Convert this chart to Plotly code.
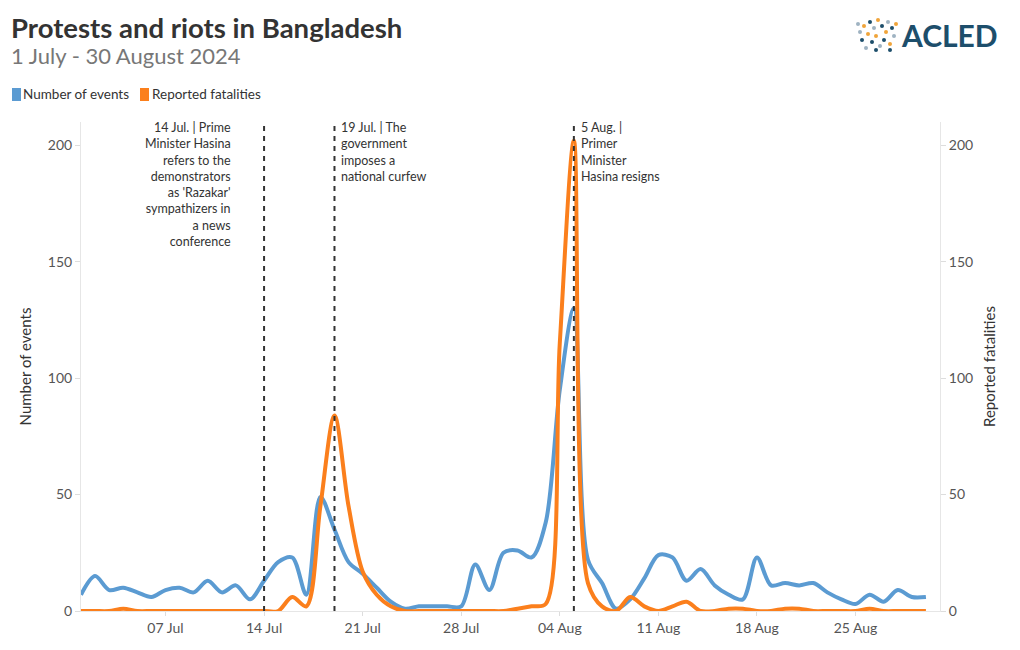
import pandas as pd
import plotly.graph_objects as go

# ---- data ----
dates = pd.date_range("2024-07-01", "2024-08-30", freq="D")
events = [7, 15, 9, 10, 8, 6, 9, 10, 8, 13, 8, 11, 5, 13, 21, 23, 7, 49, 35, 21,
          16, 10, 4, 1, 2, 2, 2, 2, 20, 9, 25,
          26, 23, 38, 95, 130, 22, 12, 1, 5, 14, 24, 23, 13, 18, 11, 7, 5, 23, 11,
          12, 11, 12, 8, 5, 3, 7, 4, 9, 6, 6]
fatalities = [0, 0, 0, 1, 0, 0, 0, 0, 0, 0, 0, 0, 0, 0, 0, 6, 2, 45, 84, 45,
              17, 7, 2, 0, 0, 0, 0, 0, 0, 0, 0,
              1, 2, 3, 115, 202, 12, 2, 0, 6, 2, 0, 2, 4, 0, 0, 1, 1, 0, 0,
              1, 1, 0, 0, 0, 0, 1, 0, 0, 0, 0]
tick_dates = ["2024-07-07", "2024-07-14", "2024-07-21", "2024-07-28",
              "2024-08-04", "2024-08-11", "2024-08-18", "2024-08-25"]
tick_labels = ["07 Jul", "14 Jul", "21 Jul", "28 Jul", "04 Aug", "11 Aug", "18 Aug", "25 Aug"]
event_dates = ["2024-07-14", "2024-07-19", "2024-08-05"]
event_texts = [
    "14 Jul. | Prime<br>Minister Hasina<br>refers to the<br>demonstrators<br>as 'Razakar'<br>sympathizers in<br>a news<br>conference",
    "19 Jul. | The<br>government<br>imposes a<br>national curfew",
    "5 Aug. |<br>Primer<br>Minister<br>Hasina resigns",
]
event_sides = ["left", "right", "right"]
series_names = ["Number of events", "Reported fatalities"]

BLUE = "#5b9bd2"
ORANGE = "#fb7f1c"
FONT = "Lato"

# plot area in pixels (for placing decorations outside the axes)
L, R, T, B = 81, 940, 122, 611
def px(x):
    return (x - L) / (R - L)
def py(y):
    return (B - y) / (B - T)

fig = go.Figure()
fig.add_trace(go.Scatter(x=dates, y=events, mode="lines", name=series_names[0],
                         line=dict(color=BLUE, width=4, shape="spline", smoothing=0.9),
                         showlegend=False, yaxis="y"))
fig.add_trace(go.Scatter(x=dates, y=fatalities, mode="lines", name=series_names[1],
                         line=dict(color=ORANGE, width=4, shape="spline", smoothing=0.9),
                         showlegend=False, yaxis="y2"))

for d in event_dates:
    fig.add_shape(type="line", xref="x", yref="paper", x0=d, x1=d, y0=0, y1=1,
                  line=dict(color="#333333", width=2, dash="5px,5px"))

for d, t, side in zip(event_dates, event_texts, event_sides):
    left = side == "left"
    fig.add_annotation(x=d, y=1.0, xref="x", yref="paper", text=t, showarrow=False,
                       xanchor="right" if left else "left", yanchor="top",
                       align="right" if left else "left",
                       xshift=-31 if left else 5, yshift=4,
                       font=dict(family=FONT, size=12.5, color="#333333"))

# title & subtitle
fig.add_annotation(x=px(9), y=py(27), xref="paper", yref="paper", showarrow=False,
                   xanchor="left", yanchor="middle",
                   text="<b>Protests and riots in Bangladesh</b>",
                   font=dict(family=FONT, size=27.5, color="#333333"))
fig.add_annotation(x=px(9), y=py(56), xref="paper", yref="paper", showarrow=False,
                   xanchor="left", yanchor="middle",
                   text="1 July - 30 August 2024",
                   font=dict(family=FONT, size=22, color="#777777"))

# legend (swatches + labels)
for (sx, tx), name, col in zip([(12, 21), (140, 150)], series_names, [BLUE, ORANGE]):
    fig.add_shape(type="rect", xref="paper", yref="paper",
                  x0=px(sx), x1=px(sx + 9), y0=py(101), y1=py(88),
                  fillcolor=col, line=dict(width=0))
    fig.add_annotation(x=px(tx), y=py(94.5), xref="paper", yref="paper", showarrow=False,
                       xanchor="left", yanchor="middle", text=name,
                       font=dict(family=FONT, size=13.5, color="#333333"))

# logo
fig.add_annotation(x=px(1000), y=py(35), xref="paper", yref="paper", showarrow=False,
                   xanchor="right", yanchor="middle", text="<b>ACLED</b>",
                   font=dict(family=FONT, size=30, color="#1d4e6b"))
logo_dots = [(860, 32, "#9fb3c2"), (864, 26, "#f0a43a"), (862, 40, "#1d4e6b"), (868, 34, "#f0a43a"),
             (870, 22, "#1d4e6b"), (874, 28, "#9fb3c2"), (872, 42, "#1d4e6b"), (876, 36, "#f0a43a"),
             (878, 20, "#f0a43a"), (882, 26, "#1d4e6b"), (880, 46, "#9fb3c2"), (884, 40, "#1d4e6b"),
             (886, 32, "#f0a43a"), (888, 22, "#9fb3c2"), (890, 44, "#f0a43a"), (892, 28, "#1d4e6b"),
             (894, 36, "#9fb3c2"), (896, 24, "#f0a43a"), (866, 48, "#9fb3c2"), (876, 50, "#1d4e6b"),
             (858, 24, "#9fb3c2"), (890, 50, "#1d4e6b")]
for dx, dy, c in logo_dots:
    fig.add_shape(type="circle", xref="paper", yref="paper",
                  x0=px(dx - 2), x1=px(dx + 2), y0=py(dy + 2), y1=py(dy - 2),
                  fillcolor=c, line=dict(width=0))

axis_common = dict(showgrid=False, zeroline=False, showline=True, linecolor="#e6e6e6",
                   ticks="outside", ticklen=5, tickcolor="#dddddd",
                   tickfont=dict(family=FONT, size=14, color="#555555"))

fig.update_layout(
    width=1020, height=650,
    margin=dict(l=L, r=1020 - R, t=T, b=650 - B, autoexpand=False),
    paper_bgcolor="white", plot_bgcolor="white",
    font=dict(family=FONT, color="#333333"),
    showlegend=False,
    xaxis=dict(range=["2024-07-01", "2024-08-31"], tickvals=tick_dates, ticktext=tick_labels,
               showgrid=False, zeroline=False, showline=True, linecolor="#e6e6e6",
               ticks="outside", ticklen=4, tickcolor="#dddddd",
               tickfont=dict(family=FONT, size=14, color="#555555")),
    yaxis=dict(range=[0, 210], tickvals=[0, 50, 100, 150, 200],
               title=dict(text="Number of events", font=dict(family=FONT, size=15, color="#333333"), standoff=12),
               **axis_common),
    yaxis2=dict(range=[0, 210], tickvals=[0, 50, 100, 150, 200], overlaying="y", side="right",
                title=dict(text="Reported fatalities", font=dict(family=FONT, size=15, color="#333333"), standoff=12),
                **axis_common),
)

fig.write_html("out.html")
